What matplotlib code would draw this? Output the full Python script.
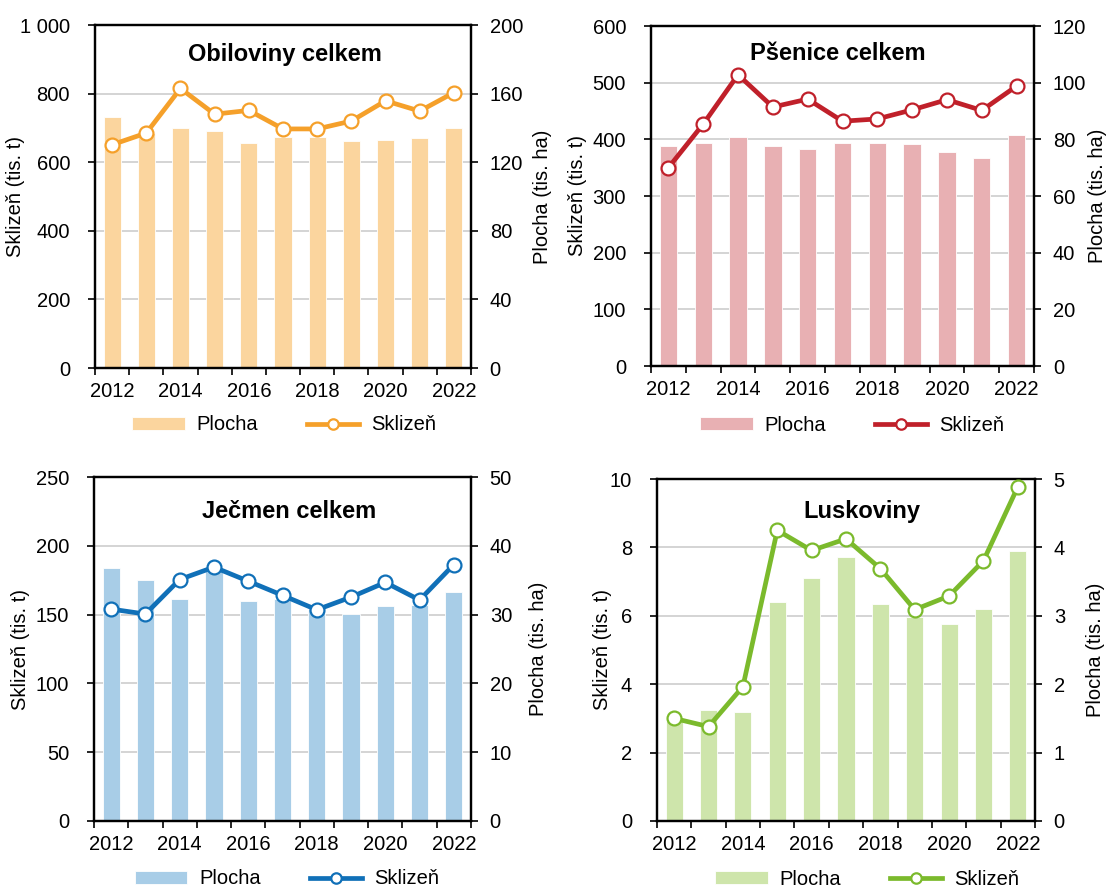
import matplotlib
matplotlib.use("Agg")
import matplotlib.pyplot as plt
from matplotlib.ticker import MultipleLocator, FuncFormatter, FixedLocator
import numpy as np

plt.rcParams['font.family'] = ['Liberation Sans', 'DejaVu Sans']
plt.rcParams['font.size'] = 14.5

years = list(range(2012, 2023))
year_labels = ['2012', '2014', '2016', '2018', '2020', '2022']

# Plocha (tis. ha) - right axis, Sklizen (tis. t) - left axis
obiloviny_plocha = [146.2, 137.0, 139.8, 138.4, 131.3, 134.6, 134.6, 132.2, 133.0, 134.4, 139.8]
obiloviny_sklizen = [651, 685, 815, 740, 751, 697, 697, 720, 779, 749, 803]

psenice_plocha = [77.8, 78.6, 80.8, 77.7, 76.6, 78.6, 78.6, 78.3, 75.4, 73.5, 81.4]
psenice_sklizen = [350, 427, 514, 457, 471, 432, 436, 452, 470, 451, 494]

jecmen_plocha = [36.8, 35.0, 32.2, 36.5, 32.0, 32.2, 30.8, 30.1, 31.3, 31.4, 33.3]
jecmen_sklizen = [154, 150.4, 175.5, 184.5, 174.3, 164, 153.5, 162.7, 173.4, 160.6, 186.4]

luskoviny_plocha = [1.5, 1.62, 1.6, 3.2, 3.55, 3.86, 3.17, 2.98, 2.88, 3.1, 3.95]
luskoviny_sklizen = [3.0, 2.76, 3.93, 8.5, 7.91, 8.25, 7.38, 6.18, 6.58, 7.61, 9.77]

W, H = 1108, 892
fig = plt.figure(figsize=(W / 100, H / 100), dpi=100)


def px_rect(left, right, top, bottom):
    return [left / W, 1 - bottom / H, (right - left) / W, (bottom - top) / H]


def thousands(v, pos):
    return f"{v:,.0f}".replace(",", " ")


def panel(rect, title, plocha, sklizen, lmax, lstep, rmax, rstep,
          line_color, bar_color, title_xy, ylab_l, ylab_r, leg_xy):
    ax = fig.add_axes(rect)
    ax2 = ax.twinx()
    x = np.arange(len(years))

    bars = ax2.bar(x, plocha, width=0.5, color=bar_color, edgecolor='white',
                   linewidth=0.6, label='Plocha', zorder=2)
    ax2.set_ylim(0, rmax)
    ax2.yaxis.set_major_locator(MultipleLocator(rstep))
    ax2.grid(axis='y', color='#c9c9c9', lw=1.1)
    ax2.set_axisbelow(True)

    line, = ax.plot(x, sklizen, color=line_color, lw=3.4, marker='o', ms=10,
                    mfc='white', mec=line_color, mew=1.6, label='Sklizeň',
                    zorder=3, clip_on=False)
    ax.set_zorder(ax2.get_zorder() + 1)
    ax.patch.set_visible(False)
    ax.set_ylim(0, lmax)
    ax.yaxis.set_major_locator(MultipleLocator(lstep))
    ax.yaxis.set_major_formatter(FuncFormatter(thousands))

    ax.set_xlim(-0.5, len(years) - 0.5)
    ax.xaxis.set_major_locator(FixedLocator(np.arange(-0.5, len(years), 1)))
    ax.xaxis.set_major_formatter(plt.NullFormatter())
    ax.xaxis.set_minor_locator(FixedLocator([0, 2, 4, 6, 8, 10]))
    ax.set_xticklabels(year_labels, minor=True)
    ax.tick_params(axis='x', which='major', direction='out', length=5, width=1.2)
    ax.tick_params(axis='x', which='minor', length=0, pad=10)
    ax.tick_params(axis='y', direction='out', length=5, width=1.2, pad=13)
    ax2.tick_params(axis='y', direction='out', length=5, width=1.2, pad=8.5)

    for a in (ax, ax2):
        for s in a.spines.values():
            s.set_linewidth(1.6)
            s.set_color('black')

    ax.set_ylabel('Sklizeň (tis. t)')
    ax.yaxis.set_label_coords(ylab_l, 0.5)
    ax2.set_ylabel('Plocha (tis. ha)')
    ax2.yaxis.set_label_coords(ylab_r, 0.5)

    ax.text(title_xy[0], title_xy[1], title, transform=ax.transAxes,
            ha='center', va='center', fontsize=17, fontweight='bold')

    ax.legend(handles=[bars, line], loc='center', bbox_to_anchor=leg_xy,
              ncol=2, frameon=False, handlelength=2.6, handletextpad=0.6,
              columnspacing=2.4, markerscale=0.75, handleheight=0.6)


panel(px_rect(95, 471, 25, 368), 'Obiloviny celkem', obiloviny_plocha, obiloviny_sklizen,
      1000, 200, 200, 40, '#F5A02A', '#FBD59E', (0.505, 0.913), -0.187, 1.165, (0.503, -0.166))
panel(px_rect(651, 1034, 26, 366), 'Pšenice celkem', psenice_plocha, psenice_sklizen,
      600, 100, 120, 20, '#C0202A', '#E8B0B3', (0.488, 0.918), -0.167, 1.141, (0.525, -0.174))
panel(px_rect(94, 471, 477, 821), 'Ječmen celkem', jecmen_plocha, jecmen_sklizen,
      250, 50, 50, 10, '#1070B8', '#A8CDE7', (0.517, 0.901), -0.17, 1.154, (0.512, -0.168))
panel(px_rect(657, 1035, 479, 821), 'Luskoviny', luskoviny_plocha, luskoviny_sklizen,
      10, 2, 5, 1, '#7BBA2C', '#CEE5AB', (0.542, 0.906), -0.119, 1.135, (0.556, -0.17))

fig.savefig('out.png', dpi=100)
